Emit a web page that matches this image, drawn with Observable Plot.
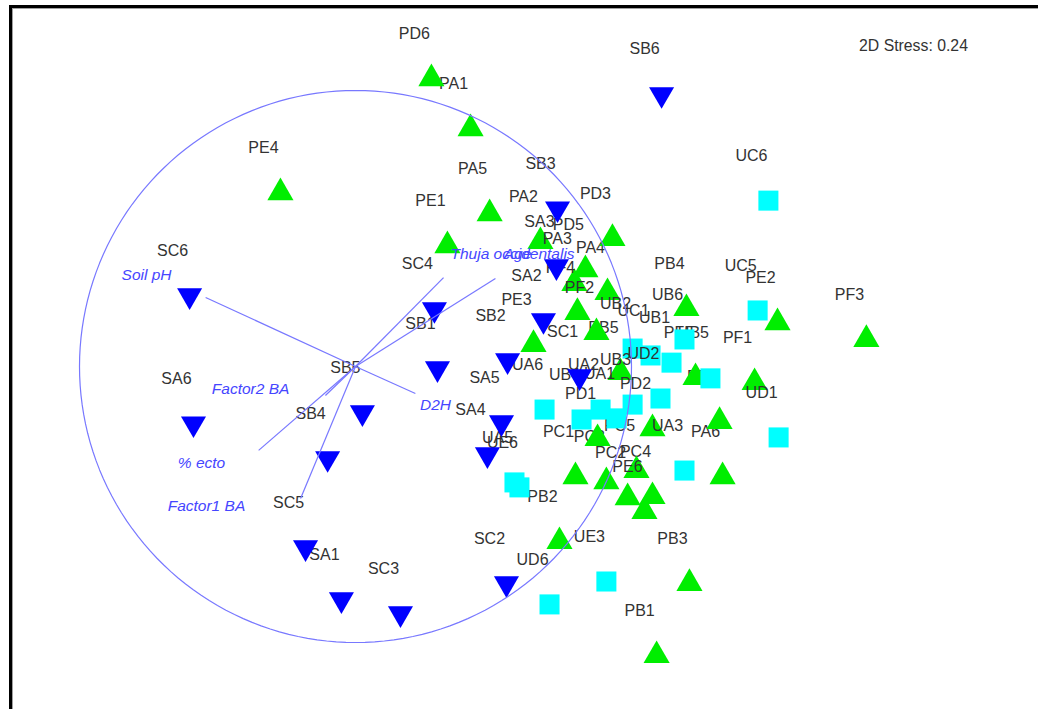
<!DOCTYPE html>
<html><head><meta charset="utf-8">
<script src="https://cdn.jsdelivr.net/npm/d3@7"></script>
<script src="https://cdn.jsdelivr.net/npm/@observablehq/plot@0.6"></script>
<style>
html,body{margin:0;padding:0;background:#fff;}
#wrap{position:relative;width:1038px;height:709px;overflow:hidden;}
#chart{position:absolute;left:0;top:0;}
#frame{position:absolute;left:9px;top:5px;width:1100px;height:800px;border-left:3px solid #000;border-top:3px solid #000;box-shadow:inset 1px 1px 0 #a0a0a0;pointer-events:none;}
</style></head><body>
<div id="wrap"><div id="chart"></div><div id="frame"></div></div>
<script>
// NMDS sample coordinates (S = blue, P = green, U = cyan)
const blueNames = ["SA1","SA2","SA3","SA4","SA5","SA6","SB1","SB2","SB3","SB4","SB5","SB6","SC1","SC2","SC3","SC4","SC5","SC6"];
const blueX = [-0.051, 0.681, 0.728, 0.478, 0.529, -0.587, 0.297, 0.551, 0.732, -0.101, 0.025, 1.109, 0.812, 0.547, 0.163, 0.286, -0.181, -0.601];
const blueY = [-0.844, 0.167, 0.362, -0.319, -0.203, -0.207, -0.007, 0.022, 0.572, -0.333, -0.167, 0.986, -0.036, -0.786, -0.895, 0.207, -0.656, 0.257];

const greenNames = ["PA1","PA2","PA3","PA4","PA5","PA6","PB1","PB2","PB3","PB4","PB5","PC1","PC2","PC3","PC4","PC5","PD1","PD2","PD3","PD4","PD5","PD6","PE1","PE2","PE3","PE4","PE6","PF1","PF2","PF3","PF4","PF5"];
const greenX = [0.417, 0.670, 0.793, 0.913, 0.486, 1.330, 1.091, 0.739, 1.210, 1.199, 0.960, 0.797, 0.986, 0.909, 1.076, 1.018, 0.877, 1.076, 0.931, 1.319, 0.833, 0.275, 0.333, 1.529, 0.645, -0.272, 1.047, 1.446, 0.873, 1.851, 0.804, 1.232];
const greenY = [0.862, 0.453, 0.301, 0.268, 0.554, -0.399, -1.047, -0.634, -0.786, 0.210, -0.022, -0.399, -0.475, -0.417, -0.471, -0.377, -0.261, -0.225, 0.464, -0.199, 0.351, 1.043, 0.438, 0.159, 0.080, 0.630, -0.525, -0.058, 0.123, 0.098, 0.196, -0.040];

const cyanNames = ["UA1","UA2","UA3","UA5","UA6","UB1","UB2","UB3","UB4","UB5","UB6","UC1","UC5","UC6","UD1","UD2","UD6","UE3","UE6"];
const cyanX = [0.946, 0.888, 1.192, 0.576, 0.685, 1.145, 1.004, 1.004, 0.819, 1.286, 1.192, 1.069, 1.457, 1.496, 1.533, 1.105, 0.703, 0.909, 0.594];
const cyanY = [-0.188, -0.156, -0.377, -0.420, -0.156, 0.014, 0.065, -0.138, -0.192, -0.043, 0.098, 0.040, 0.203, 0.601, -0.257, -0.116, -0.862, -0.779, -0.438];

// Environmental vectors (correlations) and their label anchors
const vectorNames = ["Soil pH","D2H","Thuja occidentalis","Age","% ecto","Factor1 BA","Factor2 BA"];
const vectorX = [-0.543, 0.217, 0.319, 0.507, -0.351, -0.199, -0.109];
const vectorY = [0.250, -0.098, 0.322, 0.319, -0.304, -0.478, -0.105];
const vectorLabelX = [-0.757, 0.290, 0.569, 0.587, -0.558, -0.540, -0.380];
const vectorLabelY = [0.333, -0.138, 0.406, 0.409, -0.351, -0.507, -0.083];

const stressText = "2D Stress: 0.24";

const W = 1038, H = 709;
const unit = 276, cx = 355, cy = 366; // pixels per unit, origin location

const mk = (names, xs, ys, g) => names.map((n, i) => ({name: n, x: xs[i], y: ys[i], group: g}));
const blue = mk(blueNames, blueX, blueY, "S");
const green = mk(greenNames, greenX, greenY, "P");
const cyan = mk(cyanNames, cyanX, cyanY, "U");
const vectors = vectorNames.map((n, i) => ({name: n, x: vectorX[i], y: vectorY[i], lx: vectorLabelX[i], ly: vectorLabelY[i]}));
const circle = d3.range(0, 361, 2).map(a => ({x: Math.cos(a * Math.PI / 180), y: Math.sin(a * Math.PI / 180)}));

const sqrt3 = Math.sqrt(3);
const triangleDown = {
  draw(context, size) {
    const y = Math.sqrt(size / (sqrt3 * 3));
    context.moveTo(0, y * 2);
    context.lineTo(-sqrt3 * y, -y);
    context.lineTo(sqrt3 * y, -y);
    context.closePath();
  }
};
const groupStyle = {
  S: {symbol: triangleDown, r: 9.3, fill: "#0000ff"},
  P: {symbol: "triangle", r: 9.7, fill: "#00ee00"},
  U: {symbol: "square", r: 11.3, fill: "#00ffff"}
};

// drawing order as in the original: each sample's symbol then its label
const ordered = [...green, ...cyan, ...blue];
const sampleMarks = ordered.flatMap(d => [
  Plot.dot([d], {x: "x", y: "y", ...groupStyle[d.group], stroke: "none"}),
  Plot.text([d], {x: "x", y: "y", text: "name", dx: -17, dy: -45, fontSize: 16, fill: "#333"})
]);

const lineColor = "#7878ff";
const chart = Plot.plot({
  width: W, height: H, margin: 0,
  x: {domain: [-cx / unit, (W - cx) / unit], axis: null},
  y: {domain: [(cy - H) / unit, cy / unit], axis: null},
  style: {fontFamily: "'Liberation Sans', Arial, sans-serif", background: "transparent", overflow: "visible"},
  marks: [
    ...sampleMarks,
    Plot.line(circle, {x: "x", y: "y", stroke: lineColor, strokeWidth: 1.2}),
    Plot.link(vectors, {x1: () => 0, y1: () => 0, x2: "x", y2: "y", stroke: lineColor, strokeWidth: 1.2}),
    Plot.text(vectors, {x: "lx", y: "ly", text: "name", fontSize: 15.5, fontStyle: "italic", fill: "#4646ff"}),
    Plot.text([stressText], {frameAnchor: "top-left", dx: 913, dy: 39, text: d => d, fontSize: 15.8, fill: "#333", textAnchor: "middle"})
  ]
});
document.getElementById("chart").appendChild(chart);
</script>
</body></html>
